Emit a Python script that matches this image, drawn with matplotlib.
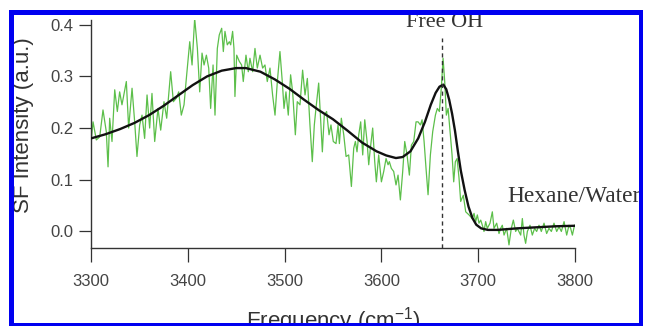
import numpy as np
import matplotlib
matplotlib.use("Agg")
import matplotlib.pyplot as plt
from matplotlib.patches import Rectangle

plt.rcParams['font.family'] = ['Liberation Sans', 'DejaVu Sans']
plt.rcParams['mathtext.fontset'] = 'custom'
plt.rcParams['mathtext.rm'] = 'Liberation Sans'
plt.rcParams['mathtext.it'] = 'Liberation Sans:italic'

meas_freq = [
    3300.0, 3302.1, 3305.5, 3309.0, 3312.4, 3315.8, 3317.6, 3319.3, 3321.7, 3324.5,
    3327.2, 3329.6, 3332.0, 3336.5, 3338.9, 3342.4, 3345.1, 3347.5, 3350.3, 3352.7,
    3355.4, 3357.9, 3360.6, 3363.0, 3365.8, 3369.2, 3372.0, 3375.4, 3378.2, 3382.3,
    3385.1, 3388.2, 3390.6, 3393.3, 3396.1, 3398.5, 3402.0, 3404.4, 3407.1, 3409.9,
    3412.3, 3414.7, 3416.8, 3419.2, 3421.6, 3423.6, 3426.1, 3428.1, 3430.5, 3432.5,
    3435.0, 3436.7, 3438.4, 3440.8, 3442.9, 3444.3, 3446.3, 3447.7, 3448.7, 3450.5,
    3453.2, 3455.6, 3457.3, 3460.1, 3462.5, 3464.2, 3467.0, 3469.4, 3471.8, 3474.6,
    3477.3, 3479.7, 3482.1, 3484.9, 3487.6, 3490.1, 3492.5, 3495.2, 3497.6, 3499.4,
    3501.4, 3503.8, 3506.2, 3508.3, 3511.1, 3513.1, 3515.9, 3518.6, 3521.1, 3523.5,
    3526.2, 3528.6, 3530.7, 3532.4, 3535.2, 3537.2, 3539.0, 3541.0, 3543.4, 3545.9,
    3547.9, 3550.3, 3553.1, 3555.2, 3556.6, 3558.6, 3561.1, 3563.5, 3566.2, 3569.0,
    3571.4, 3573.1, 3574.8, 3576.6, 3578.6, 3580.7, 3582.8, 3585.2, 3586.9, 3588.6,
    3591.0, 3593.1, 3594.8, 3597.2, 3600.0, 3602.4, 3604.8, 3606.9, 3608.2, 3610.3,
    3612.7, 3615.1, 3617.2, 3619.6, 3622.0, 3624.1, 3626.5, 3628.9, 3631.0, 3633.4,
    3635.8, 3637.9, 3640.3, 3642.0, 3644.1, 3646.1, 3648.2, 3650.6, 3653.0, 3655.8,
    3657.8, 3659.9, 3662.0, 3663.7, 3665.4, 3667.1, 3668.9, 3670.9, 3673.0, 3674.7,
    3676.4, 3678.2, 3680.2, 3681.9, 3684.6, 3687.1, 3690.5, 3693.9, 3695.7, 3697.4,
    3699.1, 3700.8, 3702.6, 3704.3, 3706.0, 3707.7, 3709.4, 3712.2, 3714.6, 3716.3,
    3719.1, 3721.5, 3723.2, 3724.9, 3726.7, 3729.4, 3731.8, 3734.2, 3736.3, 3738.7,
    3740.4, 3743.9, 3745.6, 3747.3, 3749.0, 3750.8, 3753.5, 3755.9, 3758.3, 3760.4,
    3762.8, 3765.2, 3768.0, 3770.7, 3773.1, 3775.6, 3778.3, 3781.1, 3783.5, 3785.9,
    3788.7, 3791.4, 3793.8, 3795.5, 3797.3, 3799.5,
]
meas_int = [
    0.172, 0.212, 0.177, 0.183, 0.235, 0.193, 0.125, 0.219, 0.174, 0.274,
    0.232, 0.270, 0.245, 0.290, 0.200, 0.277, 0.212, 0.145, 0.206, 0.225,
    0.180, 0.264, 0.200, 0.267, 0.174, 0.238, 0.196, 0.251, 0.219, 0.309,
    0.251, 0.258, 0.270, 0.225, 0.245, 0.296, 0.367, 0.322, 0.412, 0.354,
    0.270, 0.345, 0.322, 0.341, 0.316, 0.238, 0.322, 0.225, 0.354, 0.380,
    0.393, 0.348, 0.387, 0.361, 0.367, 0.361, 0.387, 0.354, 0.261, 0.341,
    0.329, 0.322, 0.290, 0.341, 0.309, 0.335, 0.309, 0.354, 0.316, 0.341,
    0.316, 0.322, 0.290, 0.316, 0.264, 0.225, 0.290, 0.348, 0.290, 0.238,
    0.270, 0.225, 0.303, 0.270, 0.187, 0.251, 0.245, 0.312, 0.264, 0.296,
    0.206, 0.135, 0.206, 0.238, 0.287, 0.219, 0.154, 0.225, 0.232, 0.187,
    0.206, 0.174, 0.170, 0.206, 0.170, 0.219, 0.187, 0.145, 0.148, 0.087,
    0.161, 0.174, 0.154, 0.187, 0.212, 0.148, 0.216, 0.174, 0.129, 0.161,
    0.200, 0.135, 0.096, 0.148, 0.096, 0.116, 0.141, 0.129, 0.135, 0.122,
    0.116, 0.090, 0.109, 0.061, 0.116, 0.174, 0.148, 0.109, 0.167, 0.174,
    0.212, 0.212, 0.206, 0.216, 0.174, 0.122, 0.071, 0.148, 0.193, 0.225,
    0.238, 0.232, 0.280, 0.335, 0.290, 0.225, 0.238, 0.193, 0.148, 0.096,
    0.135, 0.141, 0.103, 0.058, 0.070, 0.038, 0.032, 0.025, 0.035, 0.019,
    0.032, 0.016, 0.022, 0.012, 0.000, 0.019, 0.006, 0.016, 0.038, 0.006,
    0.016, -0.004, 0.006, 0.012, -0.007, 0.006, -0.026, 0.006, 0.022, 0.000,
    0.006, -0.007, 0.025, -0.007, -0.023, 0.000, 0.012, -0.007, 0.006, 0.000,
    0.012, 0.000, 0.016, -0.004, 0.006, 0.000, 0.016, 0.000, 0.009, 0.000,
    0.019, -0.007, 0.012, 0.006, -0.007, 0.012,
]

# fitted curve (black)
fit_freq = [
    3300, 3315, 3330, 3345, 3360, 3375, 3390, 3405, 3420, 3435,
    3450, 3460, 3475, 3490, 3505, 3520, 3535, 3550, 3565, 3580,
    3595, 3605, 3615, 3622, 3630, 3638, 3645, 3651, 3656, 3660,
    3664, 3667, 3670, 3673, 3676, 3679, 3682, 3686, 3690, 3694,
    3698, 3703, 3710, 3720, 3740, 3760, 3780, 3800,
]
fit_int = [
    0.180, 0.188, 0.198, 0.210, 0.225, 0.243, 0.263, 0.283, 0.300, 0.311,
    0.316, 0.316, 0.309, 0.294, 0.276, 0.255, 0.235, 0.217, 0.195, 0.172,
    0.155, 0.147, 0.142, 0.144, 0.155, 0.180, 0.212, 0.245, 0.268, 0.280,
    0.284, 0.275, 0.255, 0.228, 0.195, 0.155, 0.118, 0.080, 0.048, 0.026,
    0.013, 0.006, 0.003, 0.003, 0.006, 0.008, 0.010, 0.011,
]

free_oh_freq = 3663
x_ticks = [3300, 3400, 3500, 3600, 3700, 3800]
y_ticks = [0.0, 0.1, 0.2, 0.3, 0.4]

W, H = 645, 326
fig = plt.figure(figsize=(W / 100, H / 100), dpi=100)
ax = fig.add_axes([91 / W, 1 - 248 / H, 484 / W, 228 / H])

ax.plot(meas_freq, meas_int, color='#5cbf4a', lw=0.9, zorder=2)
ax.plot(fit_freq, fit_int, color='#111111', lw=1.7, zorder=3)
ax.plot([free_oh_freq, free_oh_freq], [-0.032, 0.375], color='#333333',
        lw=1.0, ls=(0, (3, 2.5)), zorder=4)

ax.set_xlim(3300, 3800)
ax.set_ylim(-0.032, 0.409)
ax.set_xticks(x_ticks)
ax.set_yticks(y_ticks)
ax.set_yticklabels([f'{v:.1f}' for v in y_ticks])

for s in ['top', 'right']:
    ax.spines[s].set_visible(False)
for s in ['left', 'bottom']:
    ax.spines[s].set_color('#333333')
    ax.spines[s].set_linewidth(1.0)

ax.tick_params(axis='x', direction='out', length=10, width=0.9, pad=8.5,
               labelsize=12, colors='#333333', labelcolor='#444444')
ax.tick_params(axis='y', direction='out', length=8.5, width=0.9, pad=4,
               labelsize=12, colors='#333333', labelcolor='#444444')

ax.set_xlabel(r'Frequency (cm$^{-1}$)', fontsize=16, color='#333333')
ax.xaxis.set_label_coords(0.5, -0.25)
ax.set_ylabel('SF Intensity (a.u.)', fontsize=16, color='#333333')
ax.yaxis.set_label_coords(-0.118, 0.54)

serif = ['Liberation Serif', 'DejaVu Serif']
ax.text(3665, 0.3955, 'Free OH', family=serif, fontsize=16, color='#333333',
        ha='center', va='baseline', clip_on=False)
ax.text(3730, 0.057, 'Hexane/Water', family=serif, fontsize=16.8, color='#333333',
        ha='left', va='baseline', clip_on=False)

# blue frame around the figure
frame = Rectangle((10.5 / W, 1 - 324.5 / H), 630 / W, 313 / H,
                  transform=fig.transFigure, fill=False, edgecolor='#0000f0',
                  lw=3.6, zorder=10)
fig.add_artist(frame)
cover = Rectangle((643 / W, 0), 2 / W, 1, transform=fig.transFigure,
                  facecolor='white', edgecolor='none', zorder=11)
fig.add_artist(cover)

fig.savefig('out.png', dpi=100)
